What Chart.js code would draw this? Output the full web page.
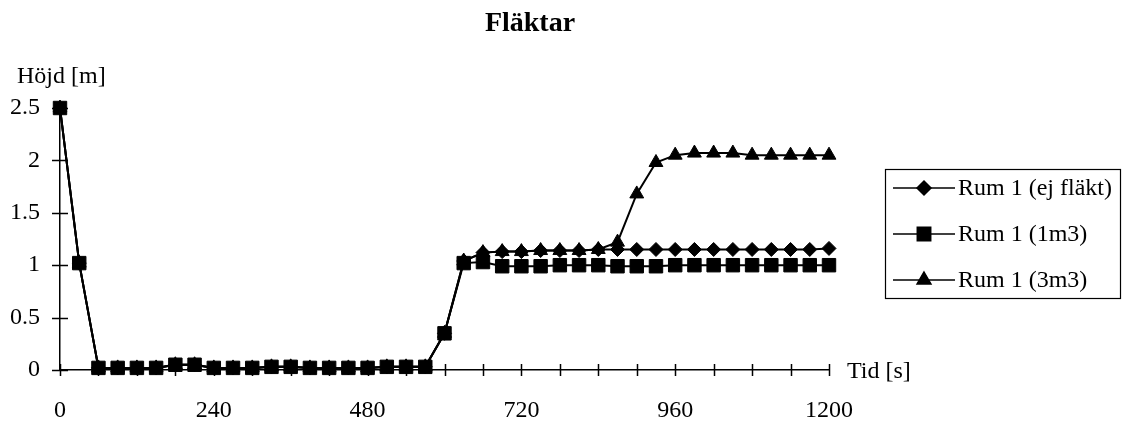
<!DOCTYPE html>
<html>
<head>
<meta charset="utf-8">
<title>Fläktar</title>
<script src="https://cdn.jsdelivr.net/npm/chart.js@4.4.1/dist/chart.umd.min.js"></script>
<style>
  html, body { margin: 0; padding: 0; background: #ffffff; }
  #wrap { width: 1124px; height: 423px; position: relative; }
</style>
</head>
<body>
<div id="wrap"><canvas id="c" width="1124" height="423"></canvas></div>
<script>
// Time in seconds for each sample
const times = [0, 30, 60, 90, 120, 150, 180, 210, 240, 270,
               300, 330, 360, 390, 420, 450, 480, 510, 540, 570,
               600, 630, 660, 690, 720, 750, 780, 810, 840, 870,
               900, 930, 960, 990, 1020, 1050, 1080, 1110, 1140, 1170, 1200];

// Smoke layer height [m], Rum 1 without fan
const rumEjFlakt = [2.5, 1.02, 0.02, 0.02, 0.02, 0.02, 0.05, 0.05, 0.02, 0.02,
                    0.02, 0.03, 0.03, 0.02, 0.02, 0.02, 0.02, 0.03, 0.03, 0.03,
                    0.35, 1.04, 1.12, 1.13, 1.13, 1.14, 1.14, 1.14, 1.15, 1.15,
                    1.15, 1.15, 1.15, 1.15, 1.15, 1.15, 1.15, 1.15, 1.15, 1.15, 1.16];

// Rum 1 with 1 m3 fan
const rum1m3 = [2.5, 1.02, 0.02, 0.02, 0.02, 0.02, 0.05, 0.05, 0.02, 0.02,
                0.02, 0.03, 0.03, 0.02, 0.02, 0.02, 0.02, 0.03, 0.03, 0.03,
                0.35, 1.02, 1.03, 0.99, 0.99, 0.99, 1.0, 1.0, 1.0, 0.99,
                0.99, 0.99, 1.0, 1.0, 1.0, 1.0, 1.0, 1.0, 1.0, 1.0, 1.0];

// Rum 1 with 3 m3 fan
const rum3m3 = [2.5, 1.02, 0.02, 0.02, 0.02, 0.02, 0.05, 0.05, 0.02, 0.02,
                0.02, 0.03, 0.03, 0.02, 0.02, 0.02, 0.02, 0.03, 0.03, 0.03,
                0.35, 1.04, 1.12, 1.13, 1.13, 1.14, 1.14, 1.14, 1.15, 1.22,
                1.68, 1.98, 2.05, 2.07, 2.07, 2.07, 2.05, 2.05, 2.05, 2.05, 2.05];

const seriesLabels = ['Rum 1 (ej fläkt)', 'Rum 1 (1m3)', 'Rum 1 (3m3)'];

// Axis tick positions
const xLabelTicks = [0, 240, 480, 720, 960, 1200];
const xMarkTicks = [0, 60, 120, 180, 240, 300, 360, 420, 480, 540, 600,
                    660, 720, 780, 840, 900, 960, 1020, 1080, 1140, 1200];
const yTicks = [0, 0.5, 1, 1.5, 2, 2.5];

const SERIF = "'Liberation Serif', 'Times New Roman', serif";

function pts(ys) { return times.map((t, i) => ({ x: t, y: ys[i] })); }

// Tick marks that cross the axis lines, plus the axis captions
const axisMarks = {
  id: 'axisMarks',
  afterDatasetsDraw(chart) {
    const ctx = chart.ctx;
    const xs = chart.scales.x, ys = chart.scales.y;
    const x0 = xs.getPixelForValue(0);
    const y0 = ys.getPixelForValue(0);
    ctx.save();
    ctx.strokeStyle = '#000';
    ctx.lineWidth = 1.5;
    ctx.beginPath();
    yTicks.forEach(v => {
      const py = Math.round(ys.getPixelForValue(v)) + 0.5;
      ctx.moveTo(x0 - 8, py); ctx.lineTo(x0 + 8, py);
    });
    xMarkTicks.forEach(v => {
      const px = Math.round(xs.getPixelForValue(v)) + 0.5;
      ctx.moveTo(px, y0 - 6); ctx.lineTo(px, y0 + 6);
    });
    ctx.stroke();

    ctx.fillStyle = '#000';
    ctx.font = '24px ' + SERIF;
    ctx.textAlign = 'left';
    ctx.textBaseline = 'alphabetic';
    ctx.fillText('Höjd [m]', 17, 83);
    ctx.fillText('Tid [s]', xs.getPixelForValue(1200) + 18, y0 + 8);

    ctx.font = 'bold 28px ' + SERIF;
    ctx.textAlign = 'center';
    ctx.textBaseline = 'middle';
    ctx.fillText('Fläktar', 530, 24);
    ctx.restore();
  }
};

// Framed legend with line + marker samples
const boxLegend = {
  id: 'boxLegend',
  afterDraw(chart) {
    const ctx = chart.ctx;
    const left = 885, top = 169, right = 1120, bottom = 298;
    const rows = [188, 234, 280];
    ctx.save();
    ctx.fillStyle = '#fff';
    ctx.fillRect(left, top, right - left, bottom - top);
    ctx.strokeStyle = '#000';
    ctx.lineWidth = 1.2;
    ctx.strokeRect(left + 0.5, top + 0.5, right - left, bottom - top);
    chart.data.datasets.forEach((ds, i) => {
      const y = rows[i];
      ctx.strokeStyle = '#000';
      ctx.lineWidth = 1.5;
      ctx.beginPath();
      ctx.moveTo(893, y); ctx.lineTo(955, y);
      ctx.stroke();
      ctx.fillStyle = '#000';
      Chart.helpers.drawPoint(ctx, {
        pointStyle: ds.pointStyle, rotation: 0,
        radius: ds.pointRadius, borderWidth: 1
      }, 924, y);
      ctx.fill();
      ctx.fillStyle = '#000';
      ctx.font = '24px ' + SERIF;
      ctx.textAlign = 'left';
      ctx.textBaseline = 'middle';
      ctx.fillText(ds.label, 958, y + 1);
    });
    ctx.restore();
  }
};

const common = {
  borderColor: '#000',
  backgroundColor: '#000',
  pointBackgroundColor: '#000',
  pointBorderColor: '#000',
  pointBorderWidth: 1,
  borderWidth: 2,
  tension: 0,
  clip: false
};

new Chart(document.getElementById('c'), {
  type: 'line',
  data: {
    datasets: [
      Object.assign({ label: seriesLabels[0], data: pts(rumEjFlakt), pointStyle: 'rectRot', pointRadius: 7, order: 1 }, common),
      Object.assign({ label: seriesLabels[1], data: pts(rum1m3), pointStyle: 'rect', pointRadius: 9.5, order: 0 }, common),
      Object.assign({ label: seriesLabels[2], data: pts(rum3m3), pointStyle: 'triangle', pointRadius: 8, order: 2 }, common)
    ]
  },
  options: {
    responsive: false,
    animation: false,
    events: [],
    layout: { padding: { left: 0, top: 108, right: 295, bottom: 0 } },
    plugins: {
      legend: { display: false },
      title: { display: false },
      tooltip: { enabled: false }
    },
    scales: {
      x: {
        type: 'linear',
        min: 0, max: 1200,
        afterFit(s) { s.height = 53; },
        afterBuildTicks(s) { s.ticks = xLabelTicks.map(v => ({ value: v })); },
        grid: { display: false, drawTicks: false },
        border: { display: true, color: '#000', width: 1.5 },
        ticks: {
          padding: 26,
          color: '#000',
          maxRotation: 0,
          autoSkip: false,
          font: { family: SERIF, size: 24 },
          callback: v => String(v)
        }
      },
      y: {
        type: 'linear',
        min: 0, max: 2.5,
        afterFit(s) { s.width = 60; },
        afterBuildTicks(s) { s.ticks = yTicks.map(v => ({ value: v })); },
        grid: { display: false, drawTicks: false },
        border: { display: true, color: '#000', width: 1.5 },
        ticks: {
          padding: 20,
          color: '#000',
          font: { family: SERIF, size: 24 },
          callback: v => String(v)
        }
      }
    }
  },
  plugins: [axisMarks, boxLegend]
});
</script>
</body>
</html>
